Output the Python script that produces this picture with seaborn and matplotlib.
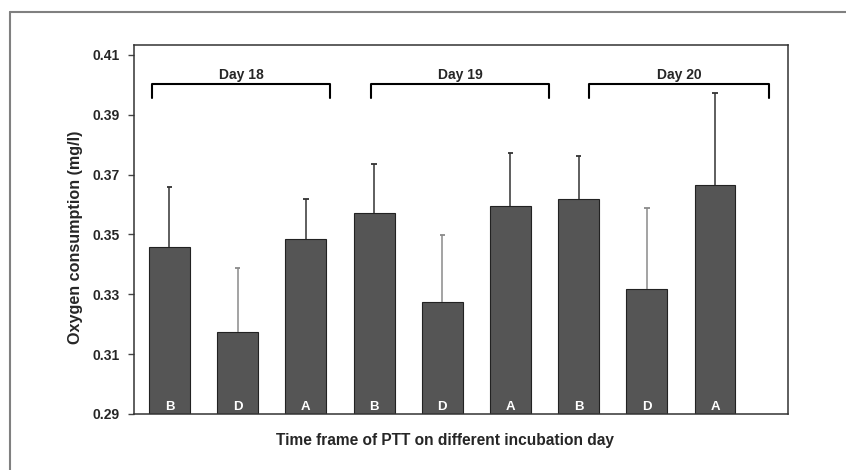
import numpy as np
import pandas as pd
import seaborn as sns
import matplotlib.pyplot as plt
from matplotlib.lines import Line2D

# values
bar_ids = ["18B", "18D", "18A", "19B", "19D", "19A", "20B", "20D", "20A"]
letters = ["B", "D", "A", "B", "D", "A", "B", "D", "A"]
oxygen = [0.3457, 0.3174, 0.3486, 0.3572, 0.3273, 0.3595, 0.3617, 0.3317, 0.3664]
err_top = [0.3658, 0.3387, 0.3620, 0.3736, 0.3497, 0.3771, 0.3763, 0.3588, 0.3973]
days = ["Day 18", "Day 19", "Day 20"]
# bracket ends, in bar-position units as drawn in the original
bracket_left = [-0.25, 2.95, 6.15]
bracket_right = [2.36, 5.57, 8.79]
yticks = [0.29, 0.31, 0.33, 0.35, 0.37, 0.39, 0.41]

sns.set_theme(style="white")
plt.rcParams['font.family'] = ['Liberation Sans', 'DejaVu Sans']

df = pd.DataFrame({"bar": bar_ids, "letter": letters, "oxygen": oxygen})

fig = plt.figure(figsize=(8.46, 4.70), dpi=100)
ax = fig.add_axes([134 / 846, 1 - 414 / 470, 654 / 846, 369 / 470])

sns.barplot(data=df, x="bar", y="oxygen", order=bar_ids, color="#555555",
            saturation=1, width=0.6, edgecolor="#222222", linewidth=0.8,
            errorbar=None, ax=ax)

# upper-only error bars
for i, (v, e) in enumerate(zip(oxygen, err_top)):
    c = "#8a8a8a" if letters[i] == "D" else "#333333"
    ax.vlines(i, v, e, color=c, lw=1.1, zorder=1)
    ax.hlines(e, i - 0.04, i + 0.04, color=c, lw=1.3, zorder=1)
    ax.text(i, 0.2925, letters[i], color="white", fontsize=9.5,
            fontweight="bold", ha="center", va="center")

# day brackets
for d, x0, x1 in zip(days, bracket_left, bracket_right):
    ax.plot([x0, x0, x1, x1], [0.3955, 0.4003, 0.4003, 0.3955],
            color="black", lw=1.5, clip_on=False)
    ax.text((x0 + x1) / 2, 0.4033, d, fontsize=10, fontweight="bold",
            ha="center", va="center")

ax.set_xlim(-0.52, 9.07)
ax.set_ylim(0.29, 0.4133)
ax.set_yticks(yticks)
ax.set_yticklabels([f"{t:.2f}" for t in yticks], fontsize=10, fontweight="bold")
ax.set_xticks([])
ax.tick_params(axis="y", direction="out", length=4, width=1, color="#444444",
               left=True, pad=6)
for s in ax.spines.values():
    s.set_color("#333333")
    s.set_linewidth(1.1)

ax.set_ylabel("Oxygen consumption (mg/l)", fontsize=11.6, fontweight="bold",
              va="center")
ax.yaxis.set_label_coords(-0.090, 0.48)
ax.set_xlabel("Time frame of PTT on different incubation day", fontsize=11.2,
              fontweight="bold", va="center")
ax.xaxis.set_label_coords(0.4755, -0.0705)

# outer frame of the original figure
fig.add_artist(Line2D([10 / 846, 10 / 846], [0, 1 - 12 / 470],
                      transform=fig.transFigure, color="#808080", lw=1.5))
fig.add_artist(Line2D([10 / 846, 1], [1 - 12 / 470, 1 - 12 / 470],
                      transform=fig.transFigure, color="#808080", lw=1.5))

fig.savefig("out.png", dpi=100)
